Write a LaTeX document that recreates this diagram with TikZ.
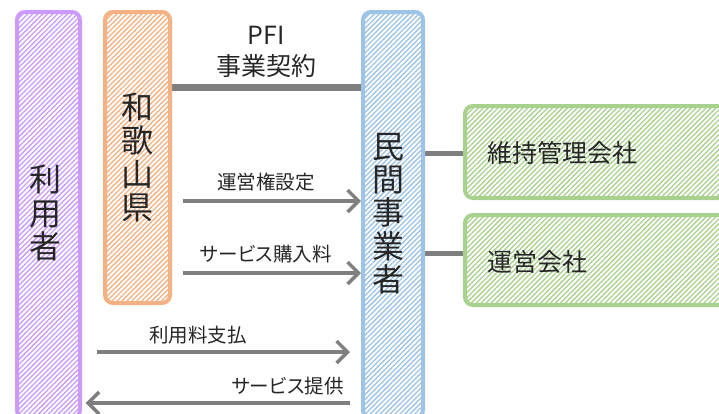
\documentclass[tikz,border=0pt]{standalone}
\usepackage{fontspec}
\setmainfont{Noto Sans CJK JP}
\newfontfamily\kfont[RawFeature=+palt]{Noto Sans CJK JP}
\usetikzlibrary{arrows.meta,patterns.meta,backgrounds}
\definecolor{cPur}{HTML}{CC99FF}
\definecolor{cOra}{HTML}{F4B183}
\definecolor{cBlu}{HTML}{9DC3E6}
\definecolor{cGrn}{HTML}{A9D18E}
\definecolor{cLine}{HTML}{7F7F7F}
\definecolor{cTxt}{HTML}{262626}
\begin{document}
\begin{tikzpicture}[x=1pt,y=-1pt,
  box/.style={draw=#1, line width=4pt, rounded corners=8pt,
    preaction={fill=white},
    pattern={Lines[angle=45,distance=3.5pt,line width=1.3pt]},
    pattern color=#1, inner sep=0pt},
  vtext/.style={font=\fontsize{32}{33.4}\selectfont, align=center, text=cTxt, inner sep=0pt},
  btext/.style={font=\fontsize{25}{30}\selectfont, text=cTxt, inner sep=0pt},
  lab/.style={font=\kfont\fontsize{19.5}{22}\selectfont, text=cTxt, inner sep=0pt},
  arr/.style={draw=cLine, line width=3.5pt, -{Straight Barb[length=11pt,width=22pt]}},
  conn/.style={draw=cLine, line width=5pt}]
\useasboundingbox (0,0) rectangle (719,413);
\clip (0,0) rectangle (719,413);
% boxes
\node[box=cPur, minimum width=63pt, minimum height=406pt] (user) at (48.5,215) {};
\node[box=cOra, minimum width=65pt, minimum height=291pt] (pref) at (137.5,157.5) {};
\node[box=cBlu, minimum width=60pt, minimum height=406pt] (priv) at (393,215) {};
\node[box=cGrn, minimum width=263pt, minimum height=92pt] (maint) at (596.5,152) {};
\node[box=cGrn, minimum width=263pt, minimum height=90pt] (ops) at (596.5,260) {};
% box texts
\node[vtext] (userT) at (45,213) {利\\用\\者};
\node[vtext] (prefT) at (137.5,157.5) {和\\歌\\山\\県};
\node[vtext] (privT) at (388,213.5) {民\\間\\事\\業\\者};
\node[btext, anchor=west] (maintT) at (487,153) {維持管理会社};
\node[btext, anchor=west] (opsT) at (487,262) {運営会社};
% connectors
\coordinate (pfiY) at (266,87.5);
\coordinate (c1) at (444,153);
\coordinate (c2) at (444,253);
\begin{scope}[on background layer]
\draw[conn, line width=7pt] (pref.east |- pfiY) -- (priv.west |- pfiY);
\draw[conn] (priv.east |- c1) -- (maint.west |- c1);
\draw[conn] (priv.east |- c2) -- (ops.west |- c2);
\end{scope}
\node[btext] (pfiA) at (266,35) {PFI};
\node[btext] (pfiB) at (266,66) {事業契約};
% arrows
\coordinate (a1) at (183,201);
\coordinate (a2) at (183,273);
\coordinate (a3s) at (97,352);
\coordinate (a3e) at (350,352);
\coordinate (a4s) at (350,403);
\draw[arr] (a1) -- (a1 -| priv.west);
\draw[arr] (a2) -- (a2 -| priv.west);
\draw[arr] (a3s) -- (a3e);
\draw[arr] (a4s) -- ([xshift=5pt]a4s -| user.east);
\node[lab] (lab1) at (266,182) {運営権設定};
\node[lab] (lab2) at (266,254) {サービス購入料};
\node[lab] (lab3) at (198,335) {利用料支払};
\node[lab] (lab4) at (287.5,386) {サービス提供};
\end{tikzpicture}
\end{document}
